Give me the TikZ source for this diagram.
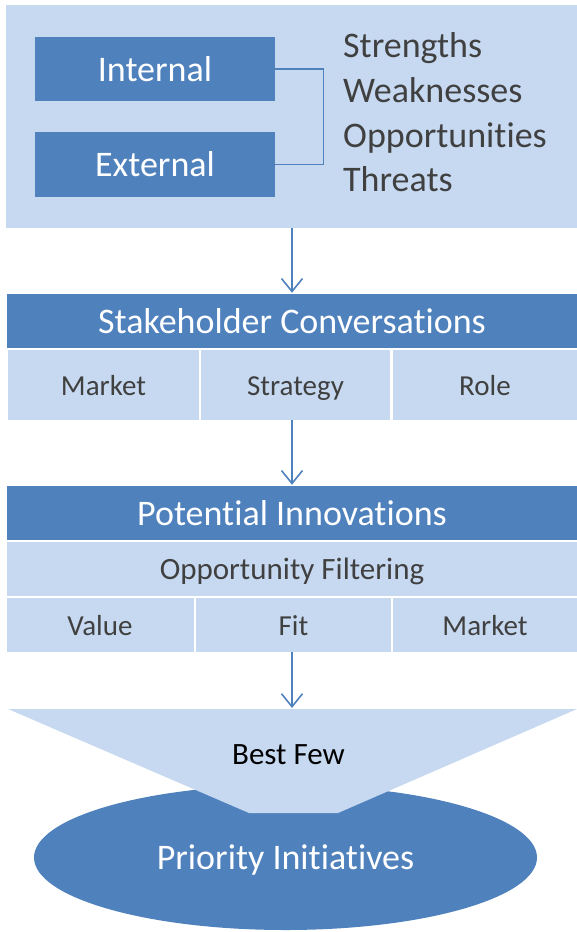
\documentclass[tikz,border=0pt]{standalone}
\usepackage{fontspec}
\setmainfont{Carlito}[Ligatures=NoCommon]
\usetikzlibrary{arrows.meta,shapes.geometric}

\definecolor{darkblue}{HTML}{4F81BD}
\definecolor{paleblue}{HTML}{C6D9F1}
\definecolor{textgray}{HTML}{404040}

\tikzset{
    bigtext/.style={font=\fontsize{36}{43}\selectfont, text height=24.5pt, text depth=0pt},
    midtext/.style={font=\fontsize{31}{37}\selectfont, text height=21pt, text depth=0pt},
    celltext/.style={font=\fontsize{29}{35}\selectfont, text height=20pt, text depth=0pt},
    darkbox/.style={fill=darkblue, text=white, inner sep=0pt},
    palebox/.style={fill=paleblue, text=textgray, inner sep=0pt},
    flow/.style={draw=darkblue, line width=1.6pt, shorten >=1pt,
        -{Straight Barb[length=13pt,width=21pt,line width=1.6pt]}},
}

\begin{document}
\begin{tikzpicture}[x=1pt,y=-1pt]
        \useasboundingbox (0,0) rectangle (577,932);

        %SWOT 區塊
        \node[palebox, minimum width=571pt, minimum height=223pt] (topbox) at (291.5,116.5) {};
        \node[darkbox, bigtext, minimum width=240pt, minimum height=64pt] (internal) at (155,69) {Internal};
        \node[darkbox, bigtext, minimum width=240pt, minimum height=65pt] (external) at (155,164.5) {External};
        \draw[darkblue, line width=1.2pt] (internal.east) -- ++(48,0) |- (external.east);

        \foreach \word/\y in
        { Strengths/57,
            Weaknesses/102,
            Opportunities/147,
            Threats/191
        }
        {
            \node[anchor=base west, inner sep=0pt, text=textgray, font=\fontsize{36}{43}\selectfont] (\word) at (343,\y) {\word};
        };

        %Stakeholder Conversations
        \node[darkbox, bigtext, minimum width=570pt, minimum height=54pt] (stake) at (292,321) {Stakeholder Conversations};
        \foreach \v/\x/\w/\t in
        { market/103.5/191/Market,
            strategy/295.5/189/Strategy,
            role/485/184/Role
        }
        {
            \node[palebox, celltext, minimum width=\w pt, minimum height=70pt] (\v) at (\x,385) {\t};
        };

        %Potential Innovations
        \node[darkbox, bigtext, minimum width=570pt, minimum height=54pt] (potential) at (292,513) {Potential Innovations};
        \node[palebox, midtext, minimum width=570pt, minimum height=54pt] (filtering) at (292,569) {Opportunity Filtering};
        \foreach \v/\x/\w/\t in
        { value/100/187/Value,
            fit/293.5/195/Fit,
            market2/485/184/Market
        }
        {
            \node[palebox, celltext, minimum width=\w pt, minimum height=54pt] (\v) at (\x,625) {\t};
        };

        %漏斗與結果
        \node[ellipse, fill=darkblue, text=white, bigtext, inner sep=0pt,
            minimum width=503pt, minimum height=145pt] (priority) at (285.5,857.5) {Priority Initiatives};

        \coordinate (FunnelL) at (8,709);
        \coordinate (FunnelR) at (577,709);
        \coordinate (NeckR) at (338,813);
        \coordinate (NeckL) at (249,813);
        \coordinate (FunnelTop) at (292,709);
        \fill[paleblue] (FunnelL) -- (FunnelR) -- (NeckR) -- (NeckL) -- cycle;
        \node[inner sep=0pt, midtext] (bestfew) at (288.5,754) {Best Few};

        %箭頭
        \draw[flow] (topbox.south -| stake.north) -- (stake.north);
        \draw[flow] (potential.north |- strategy.south) -- (potential.north);
        \draw[flow] (FunnelTop |- fit.south) -- (FunnelTop);
\end{tikzpicture}
\end{document}
